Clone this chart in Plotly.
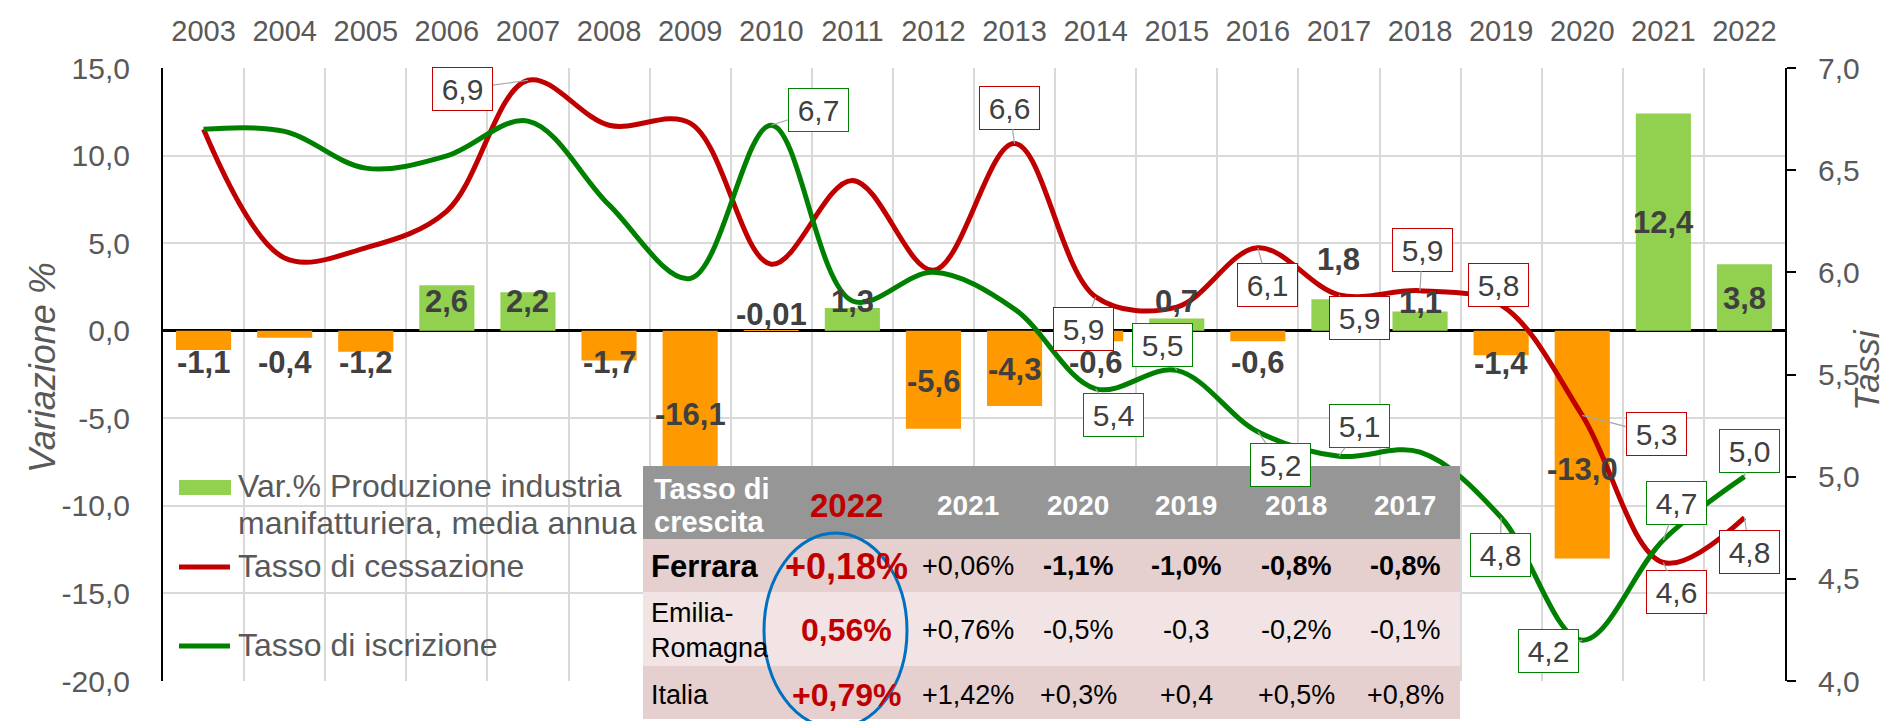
import plotly.graph_objects as go

# ---------------- data ----------------
years = [str(y) for y in range(2003, 2023)]
produzione = [-1.1, -0.4, -1.2, 2.6, 2.2, -1.7, -16.1, -0.01, 1.3, -5.6,
              -4.3, -0.6, 0.7, -0.6, 1.8, 1.1, -1.4, -13.0, 12.4, 3.8]
cessazione = [6.70, 6.07, 6.12, 6.30, 6.94, 6.72, 6.73, 6.04, 6.45, 6.01,
              6.63, 5.88, 5.83, 6.12, 5.89, 5.91, 5.84, 5.30, 4.58, 4.80]
iscrizione = [6.70, 6.69, 6.51, 6.57, 6.74, 6.33, 5.97, 6.72, 5.86, 6.00,
              5.82, 5.43, 5.52, 5.22, 5.10, 5.12, 4.80, 4.20, 4.69, 5.00]

left_ticks = [-20, -15, -10, -5, 0, 5, 10, 15]
right_ticks = [4.0, 4.5, 5.0, 5.5, 6.0, 6.5, 7.0]

left_title = "Variazione %"
right_title = "Tassi"
legend_names = ["Var.% Produzione industria<br>manifatturiera, media annua",
                "Tasso di cessazione", "Tasso di iscrizione"]

# which years carry a boxed data label, with label offsets (pixels)
cess_labels = {"2007": (-65, 9), "2013": (-5, -36), "2014": (-12, 32), "2016": (10, 37),
               "2017": (21, 23), "2018": (2, -41), "2019": (-3, -20), "2020": (74, 19),
               "2021": (13, 30), "2022": (5, 34)}
iscr_labels = {"2010": (47, -15), "2014": (18, 26), "2015": (-14, -25), "2016": (23, 33),
               "2017": (21, -30), "2019": (-1, 37), "2020": (-34, 11), "2021": (13, -37),
               "2022": (5, -26)}
# vertical position (left-axis units) of the bar value labels
bar_label_y = [-1.83, -1.83, -1.83, 1.66, 1.66, -1.83, -4.8, 0.91, 1.66, -2.9,
               -2.23, -1.83, 1.66, -1.83, 4.06, 1.6, -1.9, -7.94, 6.2, 1.83]

table_header = ["Tasso di<br>crescita", "2022", "2021", "2020", "2019", "2018", "2017"]
table_rows = [
    ["Ferrara", "+0,18%", "+0,06%", "-1,1%", "-1,0%", "-0,8%", "-0,8%"],
    ["Emilia-<br>Romagna", "0,56%", "+0,76%", "-0,5%", "-0,3", "-0,2%", "-0,1%"],
    ["Italia", "+0,79%", "+1,42%", "+0,3%", "+0,4", "+0,5%", "+0,8%"],
]
table_bold = [
    [True, True, False, True, True, True, True],
    [False, True, False, False, False, False, False],
    [False, True, False, False, False, False, False],
]

# ---------------- styling ----------------
FONT = "Liberation Sans, Arial, sans-serif"
GREY_TXT = "#595959"
LBL_TXT = "#404040"
RED = "#C00000"
GREEN = "#008000"
BAR_POS = "#92D050"
BAR_NEG = "#FF9900"

W, H = 1891, 721
P_L, P_R, P_T, P_B = 155, 1777, 60, 673


def px(x):
    return (x - P_L) / (P_R - P_L)


def py(y):
    return (P_B - y) / (P_B - P_T)


def fmt1(v):
    return f"{v:.1f}".replace(".", ",")


def fmt_bar(v):
    s = f"{v:.2f}" if abs(v) < 0.1 else f"{v:.1f}"
    return s.replace(".", ",")


def text_ann(x, y, text, size, color, xanchor="center"):
    return dict(x=px(x), y=py(y), xref="paper", yref="paper",
                xanchor=xanchor, yanchor="middle", text=text, showarrow=False,
                align="left", font=dict(family=FONT, size=size, color=color))


fig = go.Figure()

pos_vals = [v if v > 0 else None for v in produzione]
neg_vals = [v if v < 0 else None for v in produzione]

fig.add_trace(go.Bar(
    x=years, y=pos_vals, marker_color=BAR_POS, marker_line_width=0,
    name=legend_names[0].replace("<br>", " "), showlegend=False, hoverinfo="skip"))
fig.add_trace(go.Bar(
    x=years, y=neg_vals, marker_color=BAR_NEG, marker_line_width=0,
    showlegend=False, hoverinfo="skip"))
fig.add_trace(go.Scatter(
    x=years, y=cessazione, yaxis="y2", mode="lines",
    line=dict(color=RED, width=5, shape="spline", smoothing=1.0),
    name=legend_names[1], showlegend=False))
fig.add_trace(go.Scatter(
    x=years, y=iscrizione, yaxis="y2", mode="lines",
    line=dict(color=GREEN, width=5, shape="spline", smoothing=1.0),
    name=legend_names[2], showlegend=False))

annotations = []

# axis titles
annotations.append(dict(x=px(34), y=py(360), xref="paper", yref="paper", textangle=-90,
                        xanchor="center", yanchor="middle", showarrow=False,
                        text=f"<i>{left_title}</i>",
                        font=dict(family=FONT, size=36, color=GREY_TXT)))
annotations.append(dict(x=px(1858), y=py(362), xref="paper", yref="paper", textangle=-90,
                        xanchor="center", yanchor="middle", showarrow=False,
                        text=f"<i>{right_title}</i>",
                        font=dict(family=FONT, size=35, color=GREY_TXT)))

# bar value labels
for i, (v, ly) in enumerate(zip(produzione, bar_label_y)):
    annotations.append(dict(
        x=i, y=ly, xref="x", yref="y", text=f"<b>{fmt_bar(v)}</b>",
        xanchor="center", yanchor="middle",
        showarrow=False, font=dict(family=FONT, size=31, color=LBL_TXT)))

# boxed line labels
for series, labels, col in ((cessazione, cess_labels, RED), (iscrizione, iscr_labels, GREEN)):
    for i, (yr, v) in enumerate(zip(years, series)):
        if yr in labels:
            ax, ay = labels[yr]
            annotations.append(dict(
                x=i, y=v, xref="x", yref="y2", text=fmt1(v),
                showarrow=True, arrowhead=0, arrowwidth=1.2, arrowcolor="#A6A6A6",
                ax=ax, ay=ay, bgcolor="white", bordercolor=col, borderwidth=1,
                width=57, height=40, borderpad=1,
                font=dict(family=FONT, size=30, color=LBL_TXT)))

shapes = []

# manual legend
shapes.append(dict(type="rect", xref="paper", yref="paper",
                   x0=px(171), x1=px(223), y0=py(487), y1=py(472),
                   fillcolor=BAR_POS, line_width=0))
for yy, c in ((559, RED), (638, GREEN)):
    shapes.append(dict(type="line", xref="paper", yref="paper",
                       x0=px(171), x1=px(222), y0=py(yy), y1=py(yy),
                       line=dict(color=c, width=5)))
legend_line_y = [[478, 515], [558], [637]]
for name, ys in zip(legend_names, legend_line_y):
    for part, yy in zip(name.split("<br>"), ys):
        annotations.append(text_ann(228, yy, part, 32, GREY_TXT, xanchor="left"))

# table background
T_L, T_R = 635, 1452
row_bounds = [(458, 531, "#969696"), (531, 584, "#E6CFCF"),
              (584, 658, "#F2E4E4"), (658, 711, "#E6CFCF")]
for y0, y1, c in row_bounds:
    shapes.append(dict(type="rect", xref="paper", yref="paper",
                       x0=px(T_L), x1=px(T_R), y0=py(y1), y1=py(y0),
                       fillcolor=c, line_width=0, layer="above"))

col_x = [641, 838, 960, 1070, 1178, 1288, 1397]
row_y = [497, 558, 622, 687]
line_gap = [33, 0, 35, 0]

# header
for j, t in enumerate(table_header):
    if j == 0:
        parts = t.split("<br>")
        for k, part in enumerate(parts):
            yy = row_y[0] + (k - (len(parts) - 1) / 2) * line_gap[0]
            annotations.append(text_ann(col_x[0] + 3, yy, f"<b>{part}</b>", 29, "white", "left"))
    else:
        col = RED if j == 1 else "white"
        size = 33 if j == 1 else 28
        annotations.append(text_ann(col_x[j], row_y[0], f"<b>{t}</b>", size, col))
# body
for i, row in enumerate(table_rows):
    for j, t in enumerate(row):
        bold = table_bold[i][j]
        yy0 = row_y[i + 1]
        if j == 0:
            size = 31 if i == 0 else 27
            parts = t.split("<br>")
            for k, part in enumerate(parts):
                yy = yy0 + (k - (len(parts) - 1) / 2) * line_gap[i + 1]
                txt = f"<b>{part}</b>" if bold else part
                annotations.append(text_ann(col_x[0], yy, txt, size, "black", "left"))
        elif j == 1:
            size = 36 if i == 0 else 32
            annotations.append(text_ann(col_x[j], yy0, f"<b>{t}</b>", size, RED))
        else:
            txt = f"<b>{t}</b>" if bold else t
            annotations.append(text_ann(col_x[j], yy0, txt, 27, "black"))

# blue ellipse around 2022 column
shapes.append(dict(type="circle", xref="paper", yref="paper",
                   x0=px(756), x1=px(899), y0=py(720), y1=py(525),
                   line=dict(color="#0070C0", width=3), fillcolor="rgba(0,0,0,0)",
                   layer="above"))

fig.update_layout(
    width=W, height=H,
    margin=dict(l=P_L, r=W - P_R, t=P_T, b=H - P_B, pad=0, autoexpand=False),
    paper_bgcolor="white", plot_bgcolor="white",
    font=dict(family=FONT, color=GREY_TXT),
    barmode="relative", bargap=0.32,
    showlegend=False,
    xaxis=dict(type="category", side="top", tickson="boundaries", ticks="",
               range=[-0.5, 19.5], autorange=False, automargin=False,
               showgrid=True, gridcolor="#D9D9D9", gridwidth=1.5, tickangle=0,
               showline=False, tickfont=dict(family=FONT, size=29, color=GREY_TXT),
               ticklabelstandoff=20),
    yaxis=dict(range=[-20, 15], autorange=False, automargin=False, tickvals=left_ticks,
               ticktext=[fmt1(v) for v in left_ticks],
               showgrid=True, gridcolor="#D9D9D9", gridwidth=1.5,
               zeroline=True, zerolinecolor="black", zerolinewidth=2.5,
               showline=True, linecolor="black", linewidth=2,
               ticks="", ticklabelstandoff=25,
               tickfont=dict(family=FONT, size=30, color=GREY_TXT)),
    yaxis2=dict(range=[4.0, 7.0], autorange=False, automargin=False, tickvals=right_ticks,
                ticktext=[fmt1(v) for v in right_ticks],
                overlaying="y", side="right", showgrid=False, zeroline=False,
                showline=True, linecolor="black", linewidth=2,
                ticks="outside", ticklen=9, tickwidth=2, tickcolor="black",
                ticklabelstandoff=16,
                tickfont=dict(family=FONT, size=30, color=GREY_TXT)),
    annotations=annotations,
    shapes=shapes,
)

fig.write_html("out.html")
